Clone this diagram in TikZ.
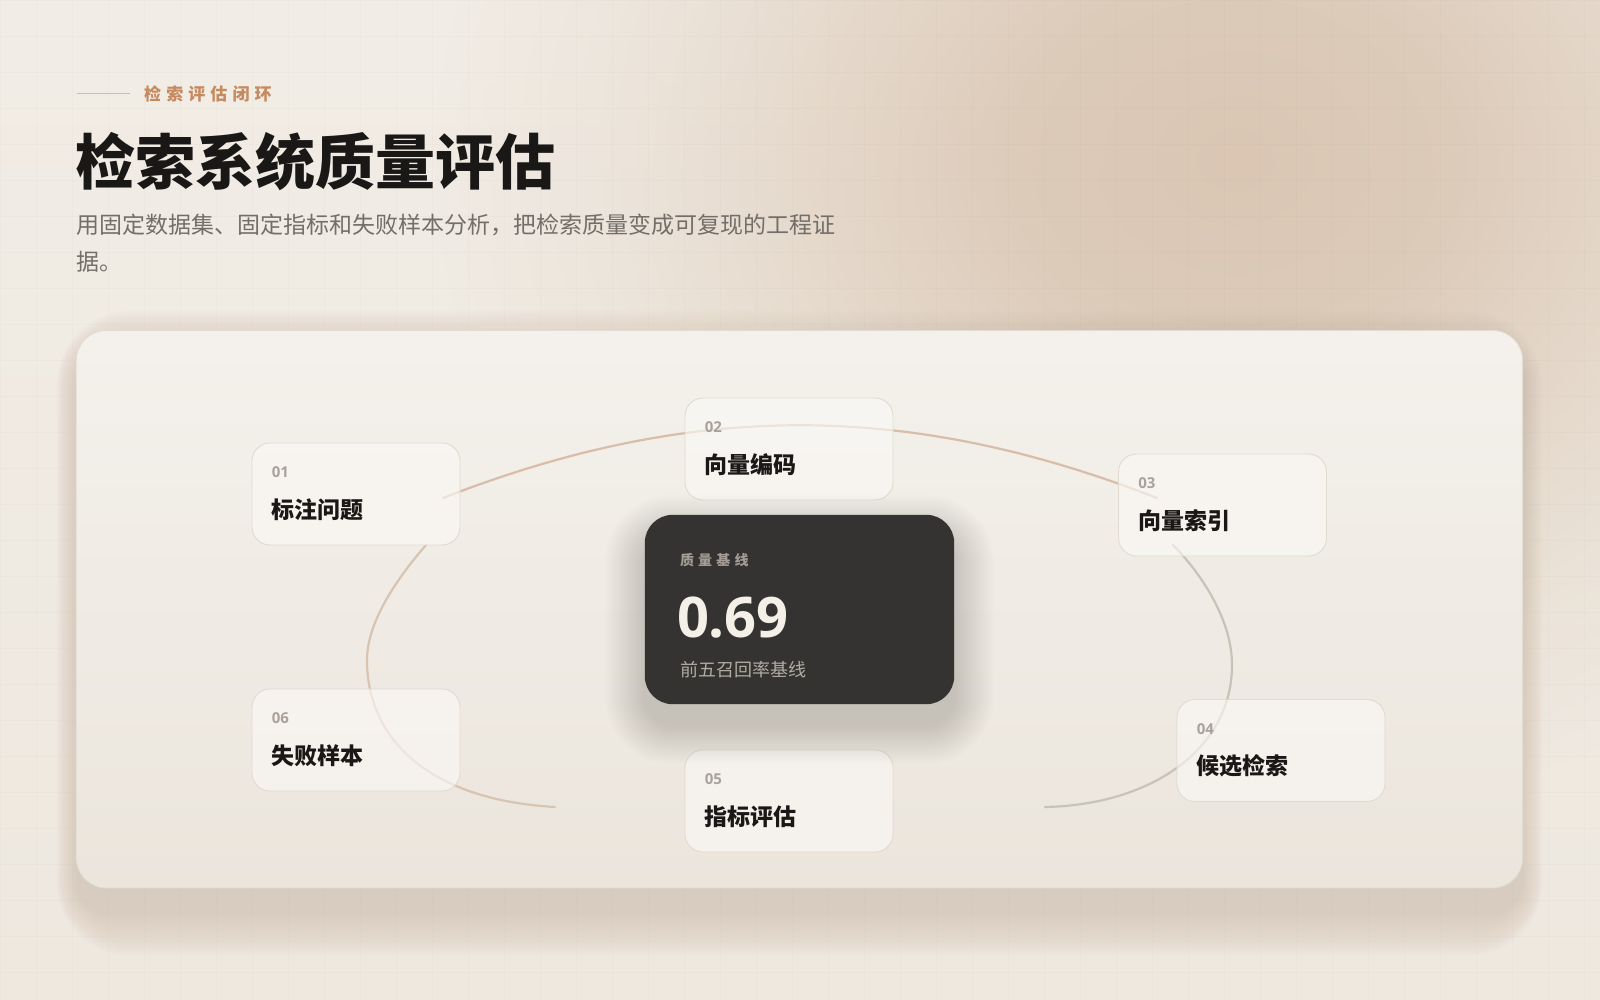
\documentclass[tikz,border=0pt]{standalone}
\usepackage{fontspec}
\setmainfont{Open Sans}
\newfontfamily\cjk{Noto Sans CJK SC}
\newfontfamily\cjkwide{Noto Sans CJK SC}[LetterSpace=30]
\usetikzlibrary{positioning,calc,fadings}

\definecolor{pagebg}{HTML}{EEE8DF}
\definecolor{pagetop}{HTML}{F1ECE5}
\definecolor{glow}{HTML}{DAC6B3}
\definecolor{gridc}{HTML}{8C7A66}
\definecolor{panelhi}{HTML}{F4F1EC}
\definecolor{panello}{HTML}{EBE5DC}
\definecolor{panelline}{HTML}{E2DBD1}
\definecolor{shadowc}{HTML}{6E5E4C}
\definecolor{cardfill}{HTML}{FBF9F6}
\definecolor{cardline}{HTML}{E1DAD0}
\definecolor{ink}{HTML}{1A1816}
\definecolor{numgray}{HTML}{A8A29A}
\definecolor{accent}{HTML}{C58A5F}
\definecolor{subgray}{HTML}{736E68}
\definecolor{dark}{HTML}{353331}
\definecolor{darklabel}{HTML}{A29C94}
\definecolor{darknum}{HTML}{F4EFE7}
\definecolor{darksub}{HTML}{B1ABA3}
\definecolor{ringtan}{HTML}{D8BDA8}
\definecolor{ringsand}{HTML}{D9C4B1}
\definecolor{ringsage}{HTML}{C7C4B7}

\pgfdeclareradialshading{glowmask}{\pgfpointorigin}{color(0bp)=(white); color(7bp)=(white!85!black);
  color(14bp)=(white!45!black); color(20bp)=(white!15!black); color(25bp)=(black); color(50bp)=(black)}
\pgfdeclarefading{glowfade}{\pgfuseshading{glowmask}}

\tikzset{
  card/.style={draw=cardline, line width=0.9pt, fill=cardfill, fill opacity=0.62,
    rounded corners=18pt, minimum width=208pt, minimum height=102pt, inner sep=0pt},
  cardnum/.style={anchor=west, inner sep=0pt, text=numgray, font=\bfseries\fontsize{15}{15}\selectfont},
  cardtitle/.style={anchor=west, inner sep=0pt, text=ink, font=\cjk\bfseries\fontsize{23}{23}\selectfont},
  ring/.style={line width=2.2pt, line cap=round},
}

\begin{document}
\begin{tikzpicture}[x=1pt,y=-1pt]
\useasboundingbox (0,0) rectangle (1600,1000);

% backdrop, glow and grid
\shade[top color=pagetop, bottom color=pagebg] (0,0) rectangle (1600,1000);
\fill[glow, path fading=glowfade] (1235,160) ellipse (800 and 660);
\foreach \g in {0,36,...,1584} {
  \draw[gridc, opacity=0.03, line width=0.6pt] (\g,0) -- (\g,1000);
}
\foreach \g in {0,36,...,1000} {
  \draw[gridc, opacity=0.03, line width=0.6pt] (0,\g) -- (1600,\g);
}

% header
\coordinate (kick-rule) at (76.5,93);
\node[anchor=west, inner sep=0pt, text=accent, font=\cjkwide\bfseries\fontsize{17}{17}\selectfont] (kicker) at (144,94) {检索评估闭环};
\draw[accent!60, line width=0.9pt, shorten >=14pt] (kick-rule) -- (kick-rule -| kicker.west);
\node[anchor=base west, inner sep=0pt, text=ink, font=\cjk\bfseries\fontsize{60}{60}\selectfont] (title) at (75,185) {检索系统质量评估};
\node[anchor=base west, inner sep=0pt, text=subgray, font=\cjk\fontsize{23}{23}\selectfont] (lede-1) at (76,234) {用固定数据集、固定指标和失败样本分析，把检索质量变成可复现的工程证};
\node[anchor=base west, inner sep=0pt, text=subgray, font=\cjk\fontsize{23}{23}\selectfont] (lede-2) at (76,270) {据。};

% panel
\node[minimum width=1446pt, minimum height=557pt, inner sep=0pt] (panel) at (799.5,609.2) {};
\foreach \s in {2,4,...,44} {
  \pgfmathsetmacro{\rr}{30+\s}
  \pgfmathsetmacro{\sx}{0.45*\s}
  \fill[shadowc, opacity=0.008, rounded corners=\rr pt]
    ([shift={(-\sx,-\s+24)}]panel.north west) rectangle ([shift={(\sx,\s+24)}]panel.south east);
}
\path[draw=panelline, line width=0.8pt, top color=panelhi, bottom color=panello, rounded corners=30pt]
  (panel.north west) rectangle (panel.south east);

% ring
\coordinate (ring-a) at (443,498);
\coordinate (ring-b) at (1157,498);
\coordinate (ring-c) at (1173,545);
\coordinate (ring-d) at (1045,807);
\coordinate (ring-e) at (555,807);
\coordinate (ring-f) at (426,545);
\draw[ring, ringtan] (ring-a) .. controls (692,401) and (908,401) .. (ring-b);
\draw[ring, ringsage] (ring-c) .. controls (1195,567) and (1232,615) .. (1232,665)
  .. controls (1232,750) and (1150,805) .. (ring-d);
\draw[ring, ringsand] (ring-f) .. controls (400,575) and (367,620) .. (367,660)
  .. controls (367,740) and (430,800) .. (ring-e);

% steps
\foreach \n/\cx/\cy/\lbl in {01/356/494/标注问题, 02/789/449/向量编码, 03/1222.5/505/向量索引,
    04/1281/750.5/候选检索, 05/789/801/指标评估, 06/356/740/失败样本} {
  \node[card] (card-\n) at (\cx,\cy) {};
  \node[cardnum] (num-\n) at ([shift={(20,30)}]card-\n.north west) {\n};
  \node[cardtitle] (step-\n) at ([shift={(20,67)}]card-\n.north west) {\lbl};
}

% baseline card
\node[minimum width=309pt, minimum height=189pt, inner sep=0pt] (base) at (799.5,609.5) {};
\foreach \s in {2,4,...,40} {
  \pgfmathsetmacro{\rr}{28+\s}
  \fill[black, opacity=0.007, rounded corners=\rr pt]
    ([shift={(-\s,-\s+20)}]base.north west) rectangle ([shift={(\s,\s+20)}]base.south east);
}
\fill[dark, rounded corners=28pt] (base.north west) rectangle (base.south east);
\node[anchor=west, inner sep=0pt, text=darklabel, font=\cjkwide\bfseries\fontsize{14}{14}\selectfont] (base-tag) at ([shift={(35,45.5)}]base.north west) {质量基线};
\node[anchor=base west, inner sep=0pt, text=darknum, font=\bfseries\fontsize{56}{56}\selectfont] (base-val) at ([shift={(32,123)}]base.north west) {0.69};
\node[anchor=west, inner sep=0pt, text=darksub, font=\cjk\fontsize{18}{18}\selectfont] (base-sub) at ([shift={(35,155)}]base.north west) {前五召回率基线};
\end{tikzpicture}
\end{document}
